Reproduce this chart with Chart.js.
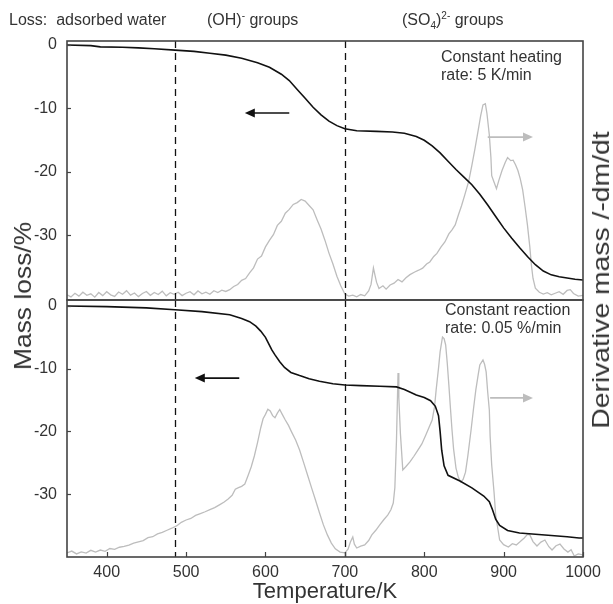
<!DOCTYPE html>
<html><head><meta charset="utf-8">
<script src="https://cdn.jsdelivr.net/npm/chart.js@4/dist/chart.umd.min.js"></script>
<style>
html,body{margin:0;padding:0;background:#fff;}
#wrap{position:relative;width:613px;height:604px;overflow:hidden;font-family:"Liberation Sans",Arial,sans-serif;color:#333;}
canvas{position:absolute;left:0;}
.t{position:absolute;white-space:nowrap;font-size:16px;line-height:18px;}
.c{position:absolute;white-space:nowrap;transform:translate(-50%,-50%);}
.rot{position:absolute;white-space:nowrap;}
sup,sub{font-size:10px;line-height:0;}
</style></head>
<body><div id="wrap">
<canvas id="c1" width="613" height="320" style="top:0"></canvas>
<canvas id="c2" width="613" height="324" style="top:280px"></canvas>
<div class="t" style="left:9px;top:11px">Loss:&nbsp; adsorbed water</div>
<div class="t" style="left:207px;top:11px">(OH)<sup>-</sup> groups</div>
<div class="t" style="left:402px;top:11px">(SO<sub>4</sub>)<sup>2-</sup> groups</div>
<div class="t" style="left:441px;top:48px">Constant heating<br>rate: 5 K/min</div>
<div class="t" style="left:445px;top:301px">Constant reaction<br>rate: 0.05 %/min</div>
<div class="c" style="left:325px;top:591px;font-size:22px">Temperature/K</div>
<div class="rot" style="left:23px;top:296px;font-size:24px;transform:translate(-50%,-50%) rotate(-90deg) scaleX(1.1)">Mass loss/%</div>
<div class="rot" style="left:601px;top:280px;font-size:24px;transform:translate(-50%,-50%) rotate(-90deg) scaleX(1.18)">Derivative mass /-dm/dt</div>
</div>
<script>
// ---- data (temperature in K, mass loss in %, derivative in arbitrary units 0-100) ----
const heatTemp = [350,380,392,420,440,460,486,510,530,550,570,590,605,620,630,640,650,660,670,680,690,700,715,740,760,775,790,800,810,820,830,840,850,860,870,880,890,900,910,920,930,940,950,960,970,980,990,1000];
const heatMass = [0,-0.1,-0.3,-0.35,-0.45,-0.6,-0.8,-1.0,-1.3,-1.6,-2.1,-2.8,-3.5,-4.6,-5.6,-7.0,-8.4,-9.8,-11.0,-12.0,-12.7,-13.2,-13.5,-13.6,-13.7,-13.9,-14.4,-15.0,-15.9,-17.0,-18.3,-19.6,-20.8,-22.0,-23.5,-25.2,-27.0,-28.8,-30.4,-31.9,-33.3,-34.6,-35.6,-36.2,-36.5,-36.7,-36.9,-37.0];
const heatDerivTemp = [350,355,360,365,370,375,380,385,390,395,400,405,410,415,420,425,430,435,440,445,450,455,460,465,470,475,480,485,490,495,500,505,510,515,520,525,530,535,540,545,550,555,560,565,570,575,580,585,590,595,600,605,610,615,620,625,630,635,640,645,650,655,660,665,670,675,680,685,690,695,700,705,710,715,720,725,730,733,736,738,740,743,748,752,757,762,767,772,777,782,788,793,798,803,807,812,816,821,826,831,835,839,843,847,851,856,860,864,868,871,874,877,879,882,884,885,888,891,894,898,902,905,909,912,915,918,921,924,927,930,933,935,937,940,945,950,955,960,965,970,975,980,984,988,994,1000];
const heatDeriv = [2.0,1.2,2.6,1.5,3.0,1.8,2.4,1.1,2.9,1.7,3.2,2.0,1.4,3.1,2.2,3.6,1.9,2.7,1.3,2.5,3.3,1.8,2.9,2.1,3.4,1.6,2.8,2.2,3.0,1.7,2.6,3.2,2.0,3.5,2.4,3.0,2.2,3.6,2.9,3.8,3.3,4.0,5.2,6.0,7.6,8.3,10.5,12.4,15.8,17.0,20.5,23.0,25.2,28.8,30.4,33.5,35.0,36.9,37.6,38.8,38.2,36.5,34.8,31.0,27.4,23.0,18.1,13.9,9.2,5.4,2.3,1.5,1.9,1.2,2.1,1.6,3.5,6.0,12.4,9.5,6.8,4.4,5.5,4.2,5.8,6.5,7.9,7.0,8.6,9.8,10.8,11.5,12.3,13.9,14.7,16.8,18.0,20.4,22.4,25.5,27.1,29.0,32.8,36.4,40.5,45.8,52.0,58.5,65.6,71.0,75.3,75.8,72.0,63.7,55.0,48.0,45.5,43.0,46.2,50.0,53.1,55.0,53.8,54.0,52.2,50.0,46.8,42.5,36.0,29.0,20.5,13.5,8.4,4.6,3.0,2.3,2.8,2.0,2.6,3.2,2.2,3.7,4.0,2.5,1.5,1.8];

const rateTemp = [350,400,450,486,520,555,570,580,588,594,600,604,608,612,618,624,632,643,655,668,685,700,720,744,765,775,790,800,808,814,818,820,822,825,830,845,860,875,882,886,890,895,905,920,940,960,980,995,1000];
const rateMass = [0,-0.1,-0.3,-0.6,-0.9,-1.4,-2.0,-2.5,-3.2,-4.0,-5.0,-6.0,-7.0,-7.8,-8.9,-9.8,-10.6,-11.1,-11.6,-12.0,-12.4,-12.6,-12.7,-12.8,-12.9,-13.3,-14.2,-14.6,-15.1,-16.0,-17.5,-20.0,-23.0,-25.5,-27.0,-27.9,-29.0,-30.3,-31.2,-32.5,-34.0,-35.0,-35.8,-36.2,-36.4,-36.6,-36.8,-37.0,-37.0];
const rateDerivTemp = [350,356,362,368,374,380,386,392,398,404,410,416,422,428,434,440,446,452,458,464,470,476,482,488,494,500,506,512,518,524,530,536,542,548,553,558,562,566,570,574,578,582,586,590,594,597,600,603,606,609,612,615,618,621,625,629,633,638,643,648,653,658,663,668,673,678,683,688,694,700,704,707,710,712,715,720,725,730,734,739,744,749,754,758,761,763,765,767,768,770,773,777,782,787,792,797,802,806,810,813,815,818,820,823,825,827,829,831,833,835,837,840,843,846,849,852,855,859,862,865,868,870,874,876,878,880,882,883,885,888,890,893,895,900,906,911,916,921,926,930,933,937,942,947,952,957,961,966,971,976,981,985,989,994,1000];
const rateDeriv = [1.6,2.3,1.2,2.0,1.5,2.6,1.9,2.7,2.2,3.3,3.0,3.8,4.1,4.6,5.4,5.9,6.4,7.5,7.9,9.0,9.6,10.4,11.2,12.1,13.5,14.4,15.0,16.2,16.9,17.6,18.4,19.2,20.3,21.4,22.6,24.0,26.4,27.0,27.5,28.4,31.6,35.0,39.3,44.5,50.2,53.8,55.5,57.5,56.8,55.0,54.2,56.0,57.4,55.6,53.3,51.2,48.6,45.5,41.6,36.8,31.9,27.0,22.2,17.2,12.5,8.6,5.4,3.2,1.9,1.6,3.0,5.8,7.8,5.0,3.5,4.2,4.7,6.4,8.6,10.4,12.5,14.5,16.3,18.4,21.0,27.0,45.0,71.6,62.0,48.0,33.9,35.2,37.0,39.2,41.6,44.0,47.5,50.4,53.3,58.5,65.0,73.5,79.8,85.6,85.0,82.5,75.5,67.0,58.0,49.4,42.0,34.6,31.0,29.2,30.2,33.0,39.5,49.4,57.5,65.0,71.0,74.7,76.7,75.0,72.0,64.0,57.2,47.0,35.8,25.0,16.3,10.5,6.6,4.8,3.9,5.2,4.7,6.0,7.4,8.8,8.6,6.0,4.3,5.8,6.6,4.0,2.7,4.4,5.0,3.1,1.9,2.8,0.4,1.2,0.8];

const xTickLabels = [400,500,600,700,800,900,1000];
const yTickLabels = [0,-10,-20,-30];
const boundaryTemps = [486,700];

// annotation arrows (data units)
const arrowsTop = [
  {axis:'y', from:[630,-10.7], to:[574,-10.7], color:'#111'},
  {axis:'d', from:[880,62.9], to:[937,62.9], color:'#bdbdbd'}
];
const arrowsBottom = [
  {axis:'y', from:[567,-11.5], to:[511,-11.5], color:'#111'},
  {axis:'d', from:[883,61.9], to:[937,61.9], color:'#bdbdbd'}
];

const zip = (xs, ys) => xs.map((x,i)=>({x:x, y:ys[i]}));
const FONT = '"Liberation Sans", Arial, sans-serif';
Chart.defaults.font.family = FONT;

const framePlugin = {
  id:'frame',
  afterDatasetsDraw(chart, args, opts){
    const {ctx, chartArea:a, scales} = chart;
    ctx.save();
    ctx.strokeStyle = '#111'; ctx.lineWidth = 1.3; ctx.setLineDash([7,5]);
    boundaryTemps.forEach(t=>{
      const x = Math.round(scales.x.getPixelForValue(t)) + 0.5;
      ctx.beginPath(); ctx.moveTo(x, a.top); ctx.lineTo(x, a.bottom); ctx.stroke();
    });
    ctx.setLineDash([]);
    (opts.arrows||[]).forEach(ar=>{
      const ys = scales[ar.axis];
      const x1 = scales.x.getPixelForValue(ar.from[0]), y1 = ys.getPixelForValue(ar.from[1]);
      const x2 = scales.x.getPixelForValue(ar.to[0]), y2 = ys.getPixelForValue(ar.to[1]);
      const dir = Math.sign(x2 - x1);
      ctx.strokeStyle = ar.color; ctx.fillStyle = ar.color; ctx.lineWidth = 1.6;
      ctx.beginPath(); ctx.moveTo(x1, y1); ctx.lineTo(x2 - dir*6, y2); ctx.stroke();
      ctx.beginPath(); ctx.moveTo(x2, y2); ctx.lineTo(x2 - dir*10, y2 - 4.5); ctx.lineTo(x2 - dir*10, y2 + 4.5); ctx.closePath(); ctx.fill();
    });
    ctx.strokeStyle = '#444'; ctx.lineWidth = 1.6;
    ctx.strokeRect(a.left, a.top, a.right - a.left, a.bottom - a.top);
    ctx.lineWidth = 1.2;
    yTickLabels.forEach(v=>{
      const y = Math.round(scales.y.getPixelForValue(v)) + 0.5;
      ctx.beginPath(); ctx.moveTo(a.left, y); ctx.lineTo(a.left + 4, y); ctx.stroke();
    });
    if (opts.xTicks) {
      xTickLabels.forEach(v=>{
        const x = Math.round(scales.x.getPixelForValue(v)) + 0.5;
        ctx.beginPath(); ctx.moveTo(x, a.bottom); ctx.lineTo(x, a.bottom - 5); ctx.stroke();
      });
    }
    ctx.restore();
  }
};

function makeChart(id, massT, mass, derT, der, yMin, yMax, padding, showX, arrows){
  return new Chart(document.getElementById(id), {
    type:'line',
    data:{datasets:[
      {data:zip(massT, mass), yAxisID:'y', borderColor:'#111', borderWidth:1.6, pointRadius:0, tension:0},
      {data:zip(derT, der), yAxisID:'d', borderColor:'#bdbdbd', borderWidth:1.3, pointRadius:0, tension:0}
    ]},
    options:{
      responsive:false, animation:false, devicePixelRatio:1,
      layout:{padding:padding},
      plugins:{legend:{display:false}, tooltip:{enabled:false}, frame:{arrows:arrows, xTicks:showX}},
      scales:{
        x:{type:'linear', min:350, max:1000, display:showX, position:'bottom',
           grid:{display:false, drawTicks:false}, border:{display:false},
           afterBuildTicks:s=>{ s.ticks = xTickLabels.map(v=>({value:v})); },
           afterFit:s=>{ if (s.options.display) s.height = 47; },
           ticks:{color:'#333', font:{size:16, family:FONT}, padding:6, maxRotation:0, autoSkip:false,
                  callback:v=>String(v)}},
        y:{type:'linear', min:yMin, max:yMax, position:'left',
           grid:{display:false, drawTicks:false}, border:{display:false},
           afterBuildTicks:s=>{ s.ticks = yTickLabels.map(v=>({value:v})); },
           afterFit:s=>{ s.width = 67; },
           ticks:{color:'#333', font:{size:16, family:FONT}, padding:10, callback:v=>String(v)}},
        d:{type:'linear', min:0, max:100, display:false, position:'right'}
      }
    },
    plugins:[framePlugin]
  });
}

makeChart('c1', heatTemp, heatMass, heatDerivTemp, heatDeriv, -40.16, 0.63, {top:41, right:30, bottom:20, left:0}, false, arrowsTop);
makeChart('c2', rateTemp, rateMass, rateDerivTemp, rateDeriv, -40.03, 0.96, {top:20, right:30, bottom:0, left:0}, true, arrowsBottom);
</script>
</body></html>
